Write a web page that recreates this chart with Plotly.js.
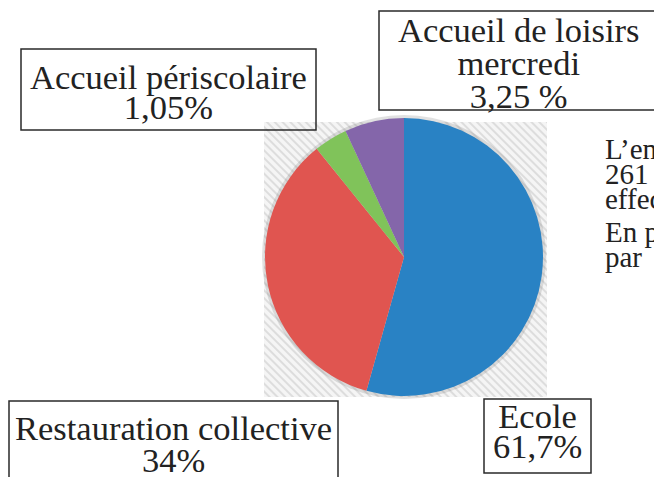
<!DOCTYPE html>
<html>
<head>
<meta charset="utf-8">
<script src="https://cdn.plot.ly/plotly-3.0.1.min.js"></script>
<style>
  html, body { margin: 0; padding: 0; background: #ffffff; }
  #wrap { position: relative; width: 654px; height: 477px; overflow: hidden; }
  #hatch {
    position: absolute; left: 264px; top: 122px; width: 283px; height: 275px;
    background: repeating-linear-gradient(45deg, #f5f5f5 0px, #f5f5f5 2.5px, #dddddd 3.5px, #dddddd 4.5px, #f5f5f5 5.5px);
  }
  #chart { position: absolute; left: 0; top: 0; width: 654px; height: 477px; }
</style>
</head>
<body>
<div id="wrap">
  <div id="hatch"></div>
  <div id="chart"></div>
</div>
<script>
// Slice order as drawn (clockwise from 12 o'clock)
const categories = ["Ecole", "Restauration collective", "Accueil périscolaire", "Accueil de loisirs mercredi"];
// Slice sizes as drawn in the picture (share of the disc, %)
const sliceValues = [54.3, 34.8, 3.9, 6.9];
// Percentages printed in the label boxes
const labelPercents = ["61,7%", "34%", "1,05%", "3,25 %"];
const sliceColors = ["#2982c4", "#e05550", "#80c35a", "#8466aa"];
// Label lines as printed in each box
const labelLines = [
  ["Ecole", labelPercents[0]],
  ["Restauration collective", labelPercents[1]],
  ["Accueil périscolaire", labelPercents[2]],
  ["Accueil de loisirs", "mercredi", labelPercents[3]]
];
// Partial paragraph cut by the right edge
const sideText1 = ["L’ensemble", "261 enfants", "effectifs"];
const sideText2 = ["En plus", "par"];

const W = 654, H = 477;
const px = x => x / W;
const py = y => 1 - y / H;

const cx = 404, cy = 257, r = 139;

const trace = {
  type: "pie",
  labels: categories,
  values: sliceValues,
  sort: false,
  direction: "clockwise",
  rotation: 0,
  textinfo: "none",
  hoverinfo: "none",
  showlegend: false,
  marker: { colors: sliceColors, line: { width: 0 } },
  domain: { x: [px(cx - r), px(cx + r)], y: [py(cy + r), py(cy - r)] }
};

const boxLine = { color: "#2a2a2a", width: 1.5 };
const shapes = [
  { type: "circle", xref: "paper", yref: "paper", layer: "below",
    x0: px(cx - r - 3), x1: px(cx + r + 3), y0: py(cy + r + 3), y1: py(cy - r - 3),
    fillcolor: "rgba(120,120,120,0.22)", line: { width: 0 } },
  { type: "rect", xref: "paper", yref: "paper", x0: px(21), x1: px(316), y0: py(130), y1: py(49), line: boxLine },
  { type: "rect", xref: "paper", yref: "paper", x0: px(379), x1: px(670), y0: py(110), y1: py(11), line: boxLine },
  { type: "rect", xref: "paper", yref: "paper", x0: px(9), x1: px(338), y0: py(490), y1: py(401), line: boxLine },
  { type: "rect", xref: "paper", yref: "paper", x0: px(484), x1: px(591), y0: py(473), y1: py(399), line: boxLine }
];

const FONT = "Liberation Serif, Times New Roman, serif";

// one annotation per box: line spacing = 1.3 * base size, glyphs drawn at glyphSize
function block(lines, x, y, lineGap, glyphSize, xanchor) {
  const base = lineGap / 1.3;
  const text = lines.map(l => '<span style="font-size:' + glyphSize + 'px">' + l + '</span>').join("<br>");
  return { text: text, xref: "paper", yref: "paper", x: px(x), y: py(y),
           xanchor: xanchor || "center", yanchor: "middle", align: xanchor === "left" ? "left" : "center",
           showarrow: false, font: { family: FONT, size: base, color: "#222222" } };
}

const annotations = [
  block(labelLines[2], 168, 92, 30, 34.5),
  block(labelLines[3], 518, 63, 33, 34.5),
  block(labelLines[1], 173, 444, 32, 34.5),
  block(labelLines[0], 537, 431, 30, 34.5),
  block(sideText1, 603, 174, 25, 29, "left"),
  block(sideText2, 603, 244.5, 25, 29, "left")
];

const layout = {
  width: W, height: H,
  margin: { l: 0, r: 0, t: 0, b: 0 },
  paper_bgcolor: "rgba(0,0,0,0)",
  plot_bgcolor: "rgba(0,0,0,0)",
  shapes: shapes,
  annotations: annotations
};

Plotly.newPlot("chart", [trace], layout, { displayModeBar: false, staticPlot: true });
</script>
</body>
</html>
